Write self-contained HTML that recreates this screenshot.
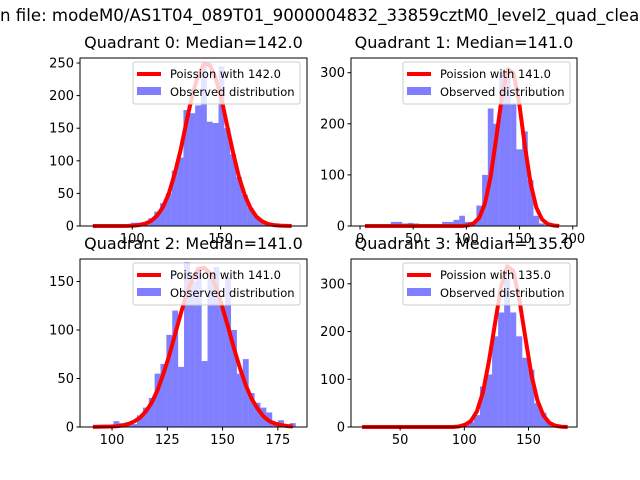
<!DOCTYPE html>
<html><head><meta charset="utf-8"><style>
html,body{margin:0;padding:0;background:#fff;}
svg{display:block;font-family:"DejaVu Sans","Liberation Sans",sans-serif;}
</style></head><body>
<svg id="fig" width="640" height="480" viewBox="0 0 640 480">
<text x="0" y="21" font-size="16.6" fill="#000">n file: modeM0/AS1T04_089T01_9000004832_33859cztM0_level2_quad_clean.evt</text>
</svg>
<script>
// ---- Quadrant 0 ----
const q0Start = 76, q0BinWidth = 3.31;
const q0Counts = [0,0,0,0,0,0,0,5,5,6,12,22,35,50,85,105,178,173,185,250,160,158,245,150,110,75,48,28,15,8,4,2,0,0,0];
const q0Curve = [0,0,0,0,0,0,0.1,0.6,1.6,3.7,8,16,29,50,80,116,159,200,231,248,247,227,195,153,112,75,47,27,14,7,3,1.4,0.5,0.2,0];
const q0XTicks = [100,150];
const q0YTicks = [0,50,100,150,200,250];
// ---- Quadrant 1 ----
const q1Start = 2, q1BinWidth = 5.37;
const q1Counts = [0,0,0,0,0,8,8,5,6,5,3,3,3,2,8,8,12,20,8,8,40,100,230,200,300,300,240,150,185,90,20,5,0,0,0];
const q1Curve = [0,0,0,0,0,0,0,0,0,0,0,0,0,0,0,0,0,0,1.2,5,16,44,97,174,256,307,300,240,156,83,36,13,3.7,1,0];
const q1XTicks = [0,50,100,150,200];
const q1YTicks = [0,100,200,300];
// ---- Quadrant 2 ----
const q2Start = 90, q2BinWidth = 2.66;
const q2Counts = [0,0,0,0,6,4,5,3,12,20,30,55,65,95,120,62,170,150,165,68,160,165,125,155,100,55,70,35,25,20,15,5,7,2,4];
const q2Curve = [0.1,0.2,0.4,0.5,0.8,1.5,3,5.6,9.5,16,25,38,55,74,96,118,138,154,163,164,158,143,124,103,81,61,43,29,19,11,6,3.5,2,1,0.5];
const q2XTicks = [100,125,150,175];
const q2YTicks = [0,50,100,150];
// ---- Quadrant 3 ----
const q3Start = 18, q3BinWidth = 4.71;
const q3Counts = [0,0,0,0,0,0,0,0,0,0,0,0,0,0,0,0,3,5,10,25,85,110,190,240,310,240,190,145,120,50,30,10,3,0,0];
const q3Curve = [0,0,0,0,0,0,0,0,0,0,0,0,0,0,0,0,1.1,4.5,12.5,33,73,139,218,295,337,327,268,188,110,56,24,8.4,2.6,0.6,0];
const q3XTicks = [50,100,150];
const q3YTicks = [0,100,200,300];

const panels = [
 {id:0,title:"Quadrant 0: Median=142.0",label:"Poission with 142.0",L:80,R:307,T:58,B:226,xmin:70.4,xmax:198.9,ymax:257.7,start:q0Start,bw:q0BinWidth,counts:q0Counts,curve:q0Curve,xt:q0XTicks,yt:q0YTicks},
 {id:1,title:"Quadrant 1: Median=141.0",label:"Poission with 141.0",L:351,R:577,T:58,B:226,xmin:-8.5,xmax:204,ymax:328.8,start:q1Start,bw:q1BinWidth,counts:q1Counts,curve:q1Curve,xt:q1XTicks,yt:q1YTicks},
 {id:2,title:"Quadrant 2: Median=141.0",label:"Poission with 141.0",L:80,R:307,T:259,B:427,xmin:85.5,xmax:188.2,ymax:173.2,start:q2Start,bw:q2BinWidth,counts:q2Counts,curve:q2Curve,xt:q2XTicks,yt:q2YTicks},
 {id:3,title:"Quadrant 3: Median=135.0",label:"Poission with 135.0",L:351,R:577,T:259,B:427,xmin:11.7,xmax:187.8,ymax:352,start:q3Start,bw:q3BinWidth,counts:q3Counts,curve:q3Curve,xt:q3XTicks,yt:q3YTicks}
];
const NS="http://www.w3.org/2000/svg";
const svg=document.getElementById('fig');
function mk(tag,attrs,parent){const e=document.createElementNS(NS,tag);for(const k in attrs)e.setAttribute(k,attrs[k]);(parent||svg).appendChild(e);return e;}
panels.forEach(p=>{
  const g=mk('g',{});
  
  
  const xs=v=>p.L+(v-p.xmin)/(p.xmax-p.xmin)*(p.R-p.L);
  const ys=v=>p.B-v/p.ymax*(p.B-p.T);
  // bars
  p.counts.forEach((c,i)=>{
    if(c<=0)return;
    const x0=xs(p.start+p.bw*i),x1=xs(p.start+p.bw*(i+1));
    const r=mk('rect',{x:x0,y:ys(c),width:x1-x0,height:p.B-ys(c),fill:'#0000ff','fill-opacity':0.5},g);
    
    
  });
  // curve
  let d='';
  p.curve.forEach((v,i)=>{const cx=p.start+p.bw*(i+0.5);d+=(i?'L':'M')+xs(cx).toFixed(2)+' '+ys(v).toFixed(2);});
  const line=mk('path',{d:d,fill:'none',stroke:'#ff0000','stroke-width':4,'stroke-linejoin':'round'},g);
  
  
  // frame
  const fr=mk('rect',{x:p.L,y:p.T,width:p.R-p.L,height:p.B-p.T,fill:'none',stroke:'#000','stroke-width':1},g);
  
  
  // ticks
  p.xt.forEach(t=>{const x=xs(t);mk('line',{x1:x,x2:x,y1:p.B,y2:p.B+3.5,stroke:'#000'},g);
    const tx=mk('text',{x:x,y:p.B+17,'font-size':13,'text-anchor':'middle'},g);tx.textContent=t;
    
    });
  p.yt.forEach(t=>{const y=ys(t);mk('line',{x1:p.L-3.5,x2:p.L,y1:y,y2:y,stroke:'#000'},g);
    const tx=mk('text',{x:p.L-6,y:y+4.5,'font-size':13,'text-anchor':'end'},g);tx.textContent=t;
    
    });
  // title
  const ti=mk('text',{x:(p.L+p.R)/2,y:p.T-10,'font-size':16,'text-anchor':'middle'},g);
  ti.textContent=p.title;
  
  
  // legend
  const lg=mk('g',{},g);
  
  
  const lx=p.R-174,ly=p.T+4;
  mk('rect',{x:lx,y:ly,width:167,height:42,rx:2,fill:'#fff','fill-opacity':0.8,stroke:'#ccc','stroke-width':1},lg);
  const ll=mk('line',{x1:lx+4,x2:lx+28,y1:ly+12,y2:ly+12,stroke:'#ff0000','stroke-width':4},lg);
  
  
  const t1=mk('text',{x:lx+37,y:ly+16,'font-size':11.5},lg);t1.textContent=p.label;
  const pr=mk('rect',{x:lx+4,y:ly+25,width:24,height:8,fill:'#0000ff','fill-opacity':0.5},lg);
  
  
  const t2=mk('text',{x:lx+37,y:ly+34,'font-size':11.5},lg);t2.textContent='Observed distribution';
});
</script>
</body></html>
